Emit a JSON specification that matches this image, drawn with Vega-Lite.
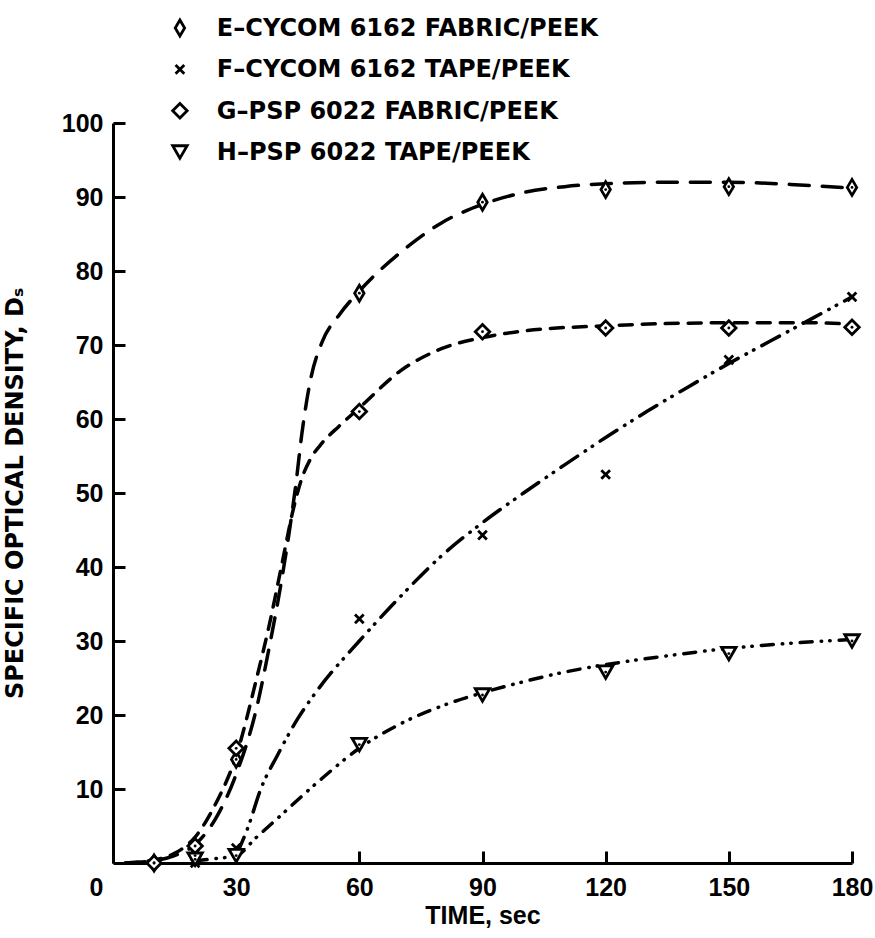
{
  "$schema": "https://vega.github.io/schema/vega-lite/v6.json",
  "width": 739,
  "height": 740,
  "autosize": "none",
  "padding": {"left": 113, "top": 123, "right": 23, "bottom": 75},
  "background": "white",
  "config": {
    "view": {"stroke": null},
    "font": "Liberation Sans",
    "axis": {
      "domainColor": "black", "domainWidth": 3, "tickColor": "black", "tickWidth": 3,
      "tickSize": -12, "grid": false, "labelFlush": false,
      "labelFont": "Liberation Sans", "labelFontSize": 25, "labelFontWeight": "bold", "labelColor": "black",
      "titleFont": "Liberation Sans", "titleFontSize": 25, "titleFontWeight": "bold", "titleColor": "black"
    }
  },
  "resolve": {"scale": {"y": "independent"}, "axis": {"y": "independent"}},
  "datasets": {
    "legend": [
      {"series": "E", "label": "E–CYCOM 6162 FABRIC/PEEK", "row": 1},
      {"series": "F", "label": "F–CYCOM 6162 TAPE/PEEK", "row": 2},
      {"series": "G", "label": "G–PSP 6022 FABRIC/PEEK", "row": 3},
      {"series": "H", "label": "H–PSP 6022 TAPE/PEEK", "row": 4}
    ],
    "pts": [
      {"series": "E", "t": 10, "v": 0},
      {"series": "E", "t": 20, "v": 1},
      {"series": "E", "t": 30, "v": 14},
      {"series": "E", "t": 60, "v": 77},
      {"series": "E", "t": 90, "v": 89.3},
      {"series": "E", "t": 120, "v": 91},
      {"series": "E", "t": 150, "v": 91.4},
      {"series": "E", "t": 180, "v": 91.3},
      {"series": "G", "t": 10, "v": 0},
      {"series": "G", "t": 20, "v": 2.3},
      {"series": "G", "t": 30, "v": 15.5},
      {"series": "G", "t": 60, "v": 61},
      {"series": "G", "t": 90, "v": 71.8},
      {"series": "G", "t": 120, "v": 72.3},
      {"series": "G", "t": 150, "v": 72.3},
      {"series": "G", "t": 180, "v": 72.4},
      {"series": "F", "t": 20, "v": 0},
      {"series": "F", "t": 30, "v": 2},
      {"series": "F", "t": 60, "v": 33},
      {"series": "F", "t": 90, "v": 44.3},
      {"series": "F", "t": 120, "v": 52.5},
      {"series": "F", "t": 150, "v": 68},
      {"series": "F", "t": 180, "v": 76.5},
      {"series": "H", "t": 20, "v": 0.5},
      {"series": "H", "t": 30, "v": 1},
      {"series": "H", "t": 60, "v": 16},
      {"series": "H", "t": 90, "v": 22.7},
      {"series": "H", "t": 120, "v": 25.8},
      {"series": "H", "t": 150, "v": 28.3},
      {"series": "H", "t": 180, "v": 30}
    ],
    "curves": [
      {"line": "E", "t": 3, "v": 0}, {"line": "E", "t": 10, "v": 0.3}, {"line": "E", "t": 15, "v": 1},
      {"line": "E", "t": 20, "v": 2.5}, {"line": "E", "t": 25, "v": 6}, {"line": "E", "t": 30, "v": 12},
      {"line": "E", "t": 35, "v": 21}, {"line": "E", "t": 38, "v": 29}, {"line": "E", "t": 41, "v": 38},
      {"line": "E", "t": 43, "v": 45}, {"line": "E", "t": 44.5, "v": 51}, {"line": "E", "t": 46, "v": 58},
      {"line": "E", "t": 48, "v": 65}, {"line": "E", "t": 51, "v": 70.5}, {"line": "E", "t": 55, "v": 74},
      {"line": "E", "t": 60, "v": 77.3},
      {"line": "E", "t": 70, "v": 82.5}, {"line": "E", "t": 80, "v": 86.5}, {"line": "E", "t": 90, "v": 89},
      {"line": "E", "t": 100, "v": 90.6}, {"line": "E", "t": 110, "v": 91.4}, {"line": "E", "t": 120, "v": 91.8},
      {"line": "E", "t": 135, "v": 92}, {"line": "E", "t": 150, "v": 92}, {"line": "E", "t": 165, "v": 91.7},
      {"line": "E", "t": 180, "v": 91.2},
      {"line": "G", "t": 3, "v": 0}, {"line": "G", "t": 10, "v": 0.4}, {"line": "G", "t": 15, "v": 1.3},
      {"line": "G", "t": 20, "v": 3.5}, {"line": "G", "t": 25, "v": 8}, {"line": "G", "t": 30, "v": 14.5},
      {"line": "G", "t": 35, "v": 25}, {"line": "G", "t": 38, "v": 32}, {"line": "G", "t": 41, "v": 40},
      {"line": "G", "t": 44, "v": 48}, {"line": "G", "t": 46, "v": 52}, {"line": "G", "t": 48, "v": 54.5},
      {"line": "G", "t": 51, "v": 56.8}, {"line": "G", "t": 55, "v": 59}, {"line": "G", "t": 60, "v": 61.5},
      {"line": "G", "t": 70, "v": 66.5},
      {"line": "G", "t": 80, "v": 69.5}, {"line": "G", "t": 90, "v": 71}, {"line": "G", "t": 100, "v": 71.9},
      {"line": "G", "t": 120, "v": 72.6}, {"line": "G", "t": 150, "v": 73}, {"line": "G", "t": 170, "v": 73},
      {"line": "G", "t": 180, "v": 72.8},
      {"line": "F", "t": 30, "v": 1}, {"line": "F", "t": 33, "v": 5}, {"line": "F", "t": 36, "v": 10},
      {"line": "F", "t": 40, "v": 14.5}, {"line": "F", "t": 45, "v": 19.5}, {"line": "F", "t": 50, "v": 23.5},
      {"line": "F", "t": 60, "v": 30}, {"line": "F", "t": 70, "v": 36}, {"line": "F", "t": 80, "v": 41.5},
      {"line": "F", "t": 90, "v": 46}, {"line": "F", "t": 100, "v": 50}, {"line": "F", "t": 110, "v": 53.8},
      {"line": "F", "t": 120, "v": 57.5}, {"line": "F", "t": 130, "v": 61}, {"line": "F", "t": 140, "v": 64.3},
      {"line": "F", "t": 150, "v": 67.5}, {"line": "F", "t": 160, "v": 70.5}, {"line": "F", "t": 170, "v": 73.5},
      {"line": "F", "t": 180, "v": 76.5},
      {"line": "H", "t": 20, "v": 0.3}, {"line": "H", "t": 25, "v": 0.6}, {"line": "H", "t": 30, "v": 1},
      {"line": "H", "t": 35, "v": 3.5}, {"line": "H", "t": 40, "v": 6}, {"line": "H", "t": 50, "v": 11},
      {"line": "H", "t": 60, "v": 15.5}, {"line": "H", "t": 70, "v": 18.8}, {"line": "H", "t": 80, "v": 21.2},
      {"line": "H", "t": 90, "v": 23}, {"line": "H", "t": 100, "v": 24.5}, {"line": "H", "t": 110, "v": 25.8},
      {"line": "H", "t": 120, "v": 26.8}, {"line": "H", "t": 135, "v": 28}, {"line": "H", "t": 150, "v": 29},
      {"line": "H", "t": 165, "v": 29.7}, {"line": "H", "t": 180, "v": 30.2}
    ]
  },
  "layer": [
    {
      "data": {"name": "curves"},
      "mark": {"type": "line", "color": "black", "strokeWidth": 3.5, "interpolate": "monotone", "strokeCap": "round"},
      "encoding": {
        "x": {"field": "t", "type": "quantitative", "scale": {"domain": [0, 180], "nice": false},
          "axis": {"values": [0, 30, 60, 90, 120, 150, 180], "title": "TIME, sec", "labelPadding": 24, "titlePadding": 3,
            "labelOffset": {"condition": {"test": "datum.value === 0", "value": -17}, "value": 0}}},
        "y": {"field": "v", "type": "quantitative", "scale": {"domain": [0, 100], "nice": false},
          "axis": {"values": [10, 20, 30, 40, 50, 60, 70, 80, 90, 100], "title": "SPECIFIC OPTICAL DENSITY, Dₛ",
            "titleFont": "DejaVu Sans", "titleFontSize": 24, "labelPadding": 22, "titlePadding": 34}},
        "detail": {"field": "line"},
        "strokeDash": {"field": "line", "type": "nominal", "legend": null,
          "scale": {"domain": ["E", "F", "G", "H"], "range": [[20, 13], [20, 9, 0.5, 8, 0.5, 9], [13, 10], [12, 9, 0.5, 8, 0.5, 9]]}}
      }
    },
    {
      "data": {"name": "pts"},
      "mark": {"type": "point", "fill": "white", "stroke": "black", "strokeWidth": 2.8, "opacity": 1, "size": 210},
      "encoding": {
        "x": {"field": "t", "type": "quantitative"},
        "y": {"field": "v", "type": "quantitative", "scale": {"domain": [0, 100], "nice": false}, "axis": null},
        "shape": {"field": "series", "type": "nominal", "legend": null,
          "scale": {"domain": ["E", "F", "G", "H"],
            "range": ["M0,-1.1L0.65,0L0,1.1L-0.65,0Z", "M-0.6,-0.6L0.6,0.6M0.6,-0.6L-0.6,0.6", "diamond", "triangle-down"]}}
      }
    },
    {
      "data": {"name": "pts"},
      "transform": [{"filter": "datum.series !== 'F'"}],
      "mark": {"type": "circle", "color": "black", "size": 8, "opacity": 1},
      "encoding": {
        "x": {"field": "t", "type": "quantitative"},
        "y": {"field": "v", "type": "quantitative", "scale": {"domain": [0, 100], "nice": false}, "axis": null}
      }
    },
    {
      "data": {"name": "legend"},
      "mark": {"type": "point", "fill": "white", "stroke": "black", "strokeWidth": 2.8, "opacity": 1, "size": 210},
      "encoding": {
        "x": {"datum": 16.3, "type": "quantitative"},
        "y": {"field": "row", "type": "ordinal", "scale": {"type": "point", "range": [-95, 29], "padding": 0}, "axis": null},
        "shape": {"field": "series", "type": "nominal", "legend": null}
      }
    },
    {
      "data": {"name": "legend"},
      "mark": {"type": "text", "align": "left", "baseline": "middle", "dy": 1, "font": "DejaVu Sans", "fontSize": 24, "fontWeight": "bold", "color": "black"},
      "encoding": {
        "x": {"datum": 25.3, "type": "quantitative"},
        "y": {"field": "row", "type": "ordinal", "scale": {"type": "point", "range": [-95, 29], "padding": 0}, "axis": null},
        "text": {"field": "label"}
      }
    }
  ]
}
